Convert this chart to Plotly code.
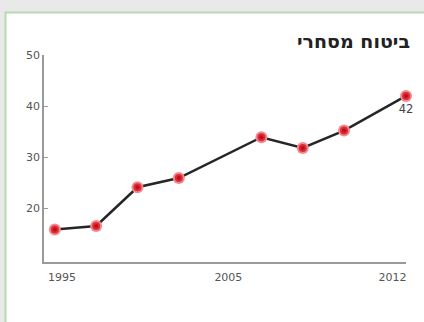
import plotly.graph_objects as go

# Data
years = [1995, 1997, 1999, 2001, 2005, 2007, 2009, 2012]
values = [15.8, 16.5, 24.1, 25.9, 33.9, 31.8, 35.2, 42]
title_text = "ביטוח מסחרי"
x_tick_labels = ["1995", "2005", "2012"]
x_tick_pos = [1995.35, 2003.4, 2011.35]
y_tick_vals = [20, 30, 40, 50]

W, H = 424, 322
def fx(px):
    return px / W
def fy(py):
    return 1 - py / H

last_label = [""] * (len(values) - 1) + [str(values[-1])]

fig = go.Figure()
fig.add_trace(go.Scatter(
    x=years, y=values, mode="lines",
    line=dict(color="#262626", width=2.5),
    hoverinfo="skip", cliponaxis=False,
))
fig.add_trace(go.Scatter(
    x=years, y=values, mode="markers+text",
    marker=dict(size=12, color="#f08a8e", line=dict(width=0)),
    text=last_label, textposition="bottom center",
    textfont=dict(family="DejaVu Sans", size=11.5, color="#444"),
    cliponaxis=False,
))
fig.add_trace(go.Scatter(
    x=years, y=values, mode="markers",
    marker=dict(size=8, color="#e02a36", line=dict(width=0)),
    cliponaxis=False,
))
fig.add_trace(go.Scatter(
    x=years, y=values, mode="markers",
    marker=dict(size=4, color="#b8101c", line=dict(width=0)),
    cliponaxis=False,
))

fig.update_layout(
    width=W, height=H,
    margin=dict(l=0, r=0, t=0, b=0),
    paper_bgcolor="#e9e9e9",
    plot_bgcolor="rgba(0,0,0,0)",
    showlegend=False,
    shapes=[dict(
        type="rect", xref="paper", yref="paper",
        x0=fx(5.5), x1=fx(440), y0=fy(6.5), y1=fy(340),
        fillcolor="white", line=dict(color="#b4dcae", width=2),
        layer="below",
    )],
    annotations=[dict(
        text="<b>" + title_text + "</b>", xref="paper", yref="paper",
        x=fx(413), y=fy(36), xanchor="right", yanchor="middle",
        showarrow=False,
        font=dict(family="DejaVu Sans", size=19, color="#222"),
    )],
    xaxis=dict(
        domain=[fx(44), fx(407)],
        range=[1994.47, 2012],
        tickvals=x_tick_pos, ticktext=x_tick_labels,
        showgrid=False, zeroline=False,
        showline=True, linecolor="#9a9a9a", linewidth=1.5,
        ticks="", ticklabelstandoff=4,
        tickfont=dict(family="DejaVu Sans", size=11, color="#555"),
        fixedrange=True,
    ),
    yaxis=dict(
        domain=[fy(261), fy(50)],
        range=[9.42, 50],
        tickvals=y_tick_vals,
        showgrid=False, zeroline=False,
        showline=True, linecolor="#9a9a9a", linewidth=1.5,
        ticks="inside", ticklen=4, tickcolor="#9a9a9a", tickwidth=1,
        tickfont=dict(family="DejaVu Sans", size=11, color="#555"),
        fixedrange=True,
    ),
)

fig.write_html("out.html")
